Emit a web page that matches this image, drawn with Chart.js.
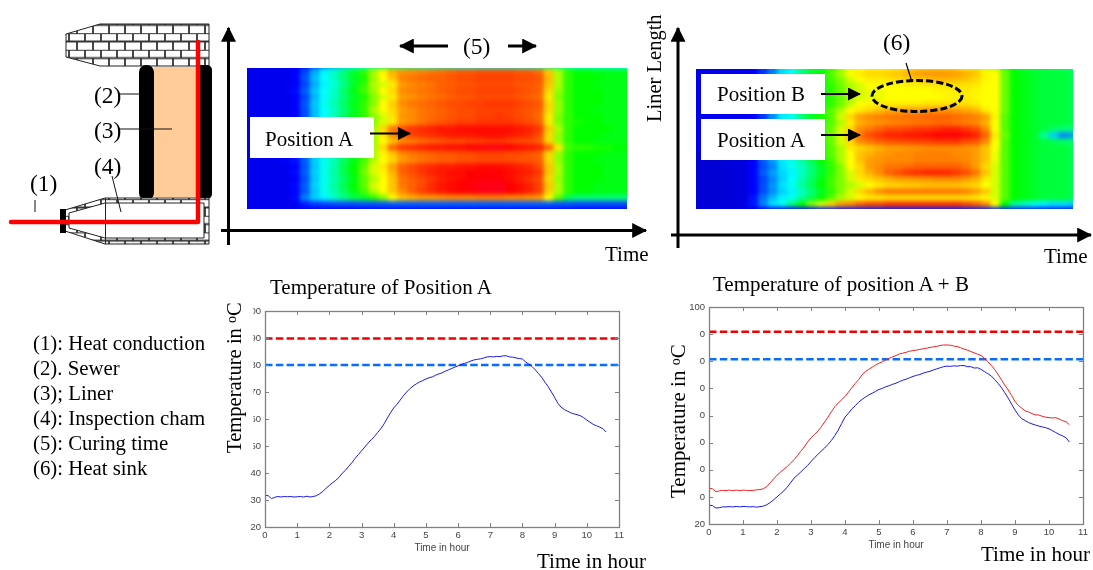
<!DOCTYPE html>
<html>
<head>
<meta charset="utf-8">
<script src="https://cdn.jsdelivr.net/npm/chart.js@4"></script>
<style>
  html, body { margin: 0; padding: 0; background: #fff; width: 1093px; height: 570px; overflow: hidden; }
  canvas { position: absolute; }
  .heat { position: absolute; overflow: hidden; }
  .heat canvas { filter: blur(2px); }
  #overlay { position: absolute; left: 0; top: 0; }
  #overlay text { font-family: "Liberation Serif", serif; fill: #000; }
</style>
</head>
<body>
<div class="heat" style="left:247px;top:68px;width:380px;height:141px"><canvas id="heatA" width="390" height="151" style="left:-5px;top:-5px"></canvas></div>
<div class="heat" style="left:696px;top:69px;width:377px;height:140px"><canvas id="heatB" width="387" height="150" style="left:-5px;top:-5px"></canvas></div>
<canvas id="chartA" width="410" height="255" style="left:220px;top:300px"></canvas>
<canvas id="chartB" width="430" height="256" style="left:664px;top:296px"></canvas>

<svg id="overlay" width="1093" height="570" xmlns="http://www.w3.org/2000/svg">
  <defs>
    <pattern id="brick" width="16" height="16.6" patternUnits="userSpaceOnUse">
      <rect width="16" height="16.6" fill="#fff"/>
      <path d="M0 0H16M0 8.3H16M5 0V8.3M13 8.3V16.6" stroke="#333" stroke-width="1.8" fill="none"/>
    </pattern>
    <marker id="head" markerWidth="5" markerHeight="5" refX="4.6" refY="2.5" orient="auto">
      <path d="M0 0L5 2.5L0 5z" fill="#000"/>
    </marker>
    <marker id="head2" markerWidth="6.5" markerHeight="6.5" refX="6" refY="3.25" orient="auto">
      <path d="M0 0L6.5 3.25L0 6.5z" fill="#000"/>
    </marker>
  </defs>

  <!-- sewer schematic -->
  <path d="M66 34L100 24H209V66H100L66 57z" fill="url(#brick)" stroke="#222"/>
  <rect x="154" y="67" width="46" height="130" fill="#ffcc99"/>
  <rect x="139" y="65" width="15" height="135" rx="7" fill="#000"/>
  <rect x="197" y="65" width="15" height="134" rx="5" fill="#000"/>
  <path d="M65 210L105 198H209V244H105L65 231z" fill="url(#brick)" stroke="#222"/>
  <path d="M69 213L105 203H204V238H105L69 228z" fill="#fff" stroke="#222"/>
  <path d="M105.5 198V244" stroke="#222"/>
  <rect x="60" y="209" width="6" height="24" fill="#000"/>
  <path d="M11 222H198V42" fill="none" stroke="#f00" stroke-width="4.5" stroke-linecap="round" stroke-linejoin="round"/>
  <path d="M118 94H139M118 129H172M112 176L121 212M35 200V212" stroke="#111" fill="none"/>
  <text x="30" y="191" font-size="23.5">(1)</text>
  <text x="94" y="103" font-size="23.5">(2)</text>
  <text x="94" y="138" font-size="23.5">(3)</text>
  <text x="94" y="174" font-size="23.5">(4)</text>

  <!-- legend list -->
  <text x="33" y="350" font-size="20.8">(1): Heat conduction</text>
  <text x="33" y="375" font-size="20.8">(2). Sewer</text>
  <text x="33" y="400" font-size="20.8">(3); Liner</text>
  <text x="33" y="425" font-size="20.8">(4): Inspection cham</text>
  <text x="33" y="450" font-size="20.8">(5): Curing time</text>
  <text x="33" y="475" font-size="20.8">(6): Heat sink</text>

  <!-- top left panel -->
  <path d="M228.5 245V28" stroke="#000" stroke-width="3" marker-end="url(#head)"/>
  <path d="M221 230.5H646" stroke="#000" stroke-width="3" marker-end="url(#head)"/>
  <path d="M448 46H400" stroke="#000" stroke-width="3" marker-end="url(#head)"/>
  <path d="M508 46H536" stroke="#000" stroke-width="3" marker-end="url(#head)"/>
  <text x="463" y="54" font-size="23.5">(5)</text>
  <rect x="250" y="117" width="124" height="41" fill="#fff"/>
  <text x="265" y="146" font-size="21">Position A</text>
  <path d="M370 133.5H410" stroke="#000" stroke-width="2" marker-end="url(#head2)" />
  <text x="605" y="261" font-size="21">Time</text>

  <!-- top right panel -->
  <path d="M678 248V28" stroke="#000" stroke-width="3" marker-end="url(#head)"/>
  <path d="M671 235H1091" stroke="#000" stroke-width="3" marker-end="url(#head)"/>
  <rect x="701" y="74" width="124" height="40" fill="#fff"/>
  <rect x="701" y="119" width="124" height="41" fill="#fff"/>
  <text x="717" y="101" font-size="21">Position B</text>
  <text x="717" y="147" font-size="21">Position A</text>
  <path d="M821 94H860" stroke="#000" stroke-width="2" marker-end="url(#head2)"/>
  <path d="M821 135H860" stroke="#000" stroke-width="2" marker-end="url(#head2)"/>
  <ellipse cx="917" cy="96" rx="45" ry="15.5" fill="none" stroke="#000" stroke-width="3" stroke-dasharray="7 3"/>
  <path d="M906 63L912 82" stroke="#000" stroke-width="1.2"/>
  <text x="883" y="50" font-size="23.5">(6)</text>
  <text x="1044" y="263" font-size="21">Time</text>
  <text transform="translate(661 122) rotate(-90)" font-size="20.5">Liner Length</text>

  <!-- bottom panels: white text boxes that cover the tick labels -->
  <rect x="225" y="304" width="28.3" height="152" fill="#fff"/>
  <rect x="668" y="312" width="31.7" height="192" fill="#fff"/>
  <text x="270" y="294" font-size="21">Temperature of Position A</text>
  <text x="713" y="291" font-size="21">Temperature of position A + B</text>
  <text transform="translate(241 453) rotate(-90)" font-size="20.6">Temperature in <tspan dy="-5" font-size="14">o</tspan><tspan dy="5">C</tspan></text>
  <text transform="translate(685 498) rotate(-90)" font-size="21">Temperature in <tspan dy="-5" font-size="14">o</tspan><tspan dy="5">C</tspan></text>
  <text x="537" y="568" font-size="21">Time in hour</text>
  <text x="981" y="561" font-size="21">Time in hour</text>
</svg>

<script>
// Sampling times of the logger, hours
const timeHours = [
  0.0,0.1,0.2,0.3,0.4,0.5,0.6,0.7,0.8,0.9,
  1.0,1.1,1.2,1.3,1.4,1.5,1.6,1.7,1.8,1.9,
  2.0,2.1,2.2,2.3,2.4,2.5,2.6,2.7,2.8,2.9,
  3.0,3.1,3.2,3.3,3.4,3.5,3.6,3.7,3.8,3.9,
  4.0,4.1,4.2,4.3,4.4,4.5,4.6,4.7,4.8,4.9,
  5.0,5.1,5.2,5.3,5.4,5.5,5.6,5.7,5.8,5.9,
  6.0,6.1,6.2,6.3,6.4,6.5,6.6,6.7,6.8,6.9,
  7.0,7.1,7.2,7.3,7.4,7.5,7.6,7.7,7.8,7.9,
  8.0,8.1,8.2,8.3,8.4,8.5,8.6,8.7,8.8,8.9,
  9.0,9.1,9.2,9.3,9.4,9.5,9.6,9.7,9.8,9.9,
  10.0,10.1,10.2,10.3,10.4,10.5,10.6
];

// Left plot: temperature of position A
const tempA = [
  31.7,31.6,30.5,31.0,31.3,31.1,31.3,31.2,31.3,31.1,
  31.2,31.3,31.1,31.4,31.1,31.3,31.6,32.3,33.2,34.4,
  35.4,36.4,37.3,38.4,39.9,41.0,42.5,43.8,45.4,46.8,
  48.2,49.6,51.0,52.3,53.5,55.0,56.4,58.2,60.3,62.3,
  64.1,65.4,67.0,68.6,70.0,71.2,72.2,73.0,73.7,74.2,
  74.8,75.3,75.6,76.2,76.7,77.1,77.7,78.2,78.7,79.2,
  79.7,80.2,80.6,81.0,81.5,81.9,82.1,82.3,82.6,83.0,
  83.1,83.0,83.2,83.1,83.4,83.4,83.0,82.9,82.6,82.4,
  82.2,81.1,80.3,79.4,78.2,76.8,75.4,73.6,72.0,70.0,
  68.0,65.8,64.4,63.5,62.9,62.3,61.9,61.6,61.2,60.5,
  59.6,58.8,58.0,57.5,57.0,56.4,55.2
];

// Right plot: position A (red) and position B (blue)
const tempRed = [
  33.2,33.0,31.9,32.2,32.4,32.3,32.5,32.3,32.5,32.3,
  32.5,32.4,32.3,32.4,32.6,32.7,33.0,33.8,35.2,36.6,
  38.0,39.1,40.2,41.2,42.4,43.7,45.2,46.8,48.4,50.2,
  51.8,53.0,54.2,55.8,57.6,59.4,61.4,63.2,64.6,65.8,
  67.0,68.6,70.2,71.8,73.2,75.0,76.2,77.0,77.8,78.6,
  79.3,79.8,80.5,81.1,81.6,82.1,82.7,83.0,83.3,83.7,
  83.9,84.1,84.4,84.6,84.8,85.1,85.3,85.5,85.8,86.0,
  86.0,85.9,85.6,85.4,85.0,84.5,84.1,83.6,83.1,82.6,
  82.1,81.2,79.8,78.5,77.0,75.2,73.2,71.2,69.4,67.4,
  65.2,63.7,62.7,61.7,61.3,60.7,60.2,60.2,59.7,59.4,
  59.2,59.1,59.2,58.7,58.1,57.7,56.6
];
const tempBlue = [
  26.9,26.8,25.9,26.0,26.3,26.3,26.4,26.3,26.5,26.3,
  26.5,26.4,26.3,26.4,26.2,26.4,26.6,27.1,27.9,28.9,
  30.0,31.1,32.2,33.6,35.2,36.9,38.0,39.2,40.4,41.6,
  43.0,44.4,45.6,46.9,48.0,49.3,50.8,52.6,54.6,57.0,
  59.4,60.8,62.4,63.6,64.9,65.9,66.8,67.6,68.2,68.9,
  69.6,70.0,70.6,71.0,71.5,71.9,72.5,73.0,73.4,73.9,
  74.4,74.8,75.1,75.6,76.0,76.3,76.8,77.2,77.6,78.0,
  78.2,78.1,78.3,78.2,78.4,78.4,78.0,78.0,77.5,77.6,
  77.0,76.2,75.4,74.6,73.3,71.9,70.3,68.4,66.4,64.2,
  62.0,60.2,58.8,58.1,57.4,56.9,56.5,56.1,55.8,55.5,
  55.1,54.4,53.7,53.0,52.5,51.8,50.2
];

// Dashed limit lines [upper red, lower blue]
const limitsA = [89.8, 80.0];
const limitsB = [90.9, 80.7];
const limitSpan = [0, 11];

// Tick labels of the two small plots
const yTicks = [20, 30, 40, 50, 60, 70, 80, 90, 100];
const xTicks = [0, 1, 2, 3, 4, 5, 6, 7, 8, 9, 10, 11];

// Thermal image left, temperature index 0..100, rows from top to bottom
const heatRowsA = [
  [8,8,8,8,8,9,12,18,24,28,32,36,38,42,44,44,42,42,40,40,40,40,38,38,38,38,38,38,38,38,40,42,42,40,38,38,38,38,36,36],
  [8,8,8,8,8,9,17,28,36,40,44,48,52,58,63,70,73,74,75,76,77,78,79,79,80,80,80,80,79,79,77,68,58,52,50,50,49,49,49,49],
  [8,8,8,8,8,10,19,30,37,40,44,48,51,57,62,68,75,76,77,78,78,79,80,80,81,81,81,81,80,80,79,69,58,52,50,50,50,49,49,49],
  [8,8,8,8,8,9,17,28,36,39,43,48,52,58,60,64,72,74,75,76,78,78,79,79,80,80,80,80,79,79,78,68,58,52,50,50,49,49,49,49],
  [8,8,8,8,8,11,20,31,37,40,45,49,53,57,62,66,74,75,76,77,78,79,80,80,81,81,81,81,80,79,78,66,57,52,50,50,50,49,49,49],
  [8,8,8,8,8,9,17,29,37,40,44,48,51,56,60,64,72,73,75,76,77,78,79,79,80,80,80,80,79,78,77,64,56,52,50,50,50,49,49,49],
  [8,8,8,8,8,10,19,31,38,41,45,49,52,56,62,67,74,76,77,78,79,80,80,81,81,82,82,82,81,80,79,66,57,52,50,50,50,49,49,49],
  [8,8,8,8,8,9,18,30,37,40,44,48,52,58,62,66,72,74,76,77,78,79,80,80,81,81,81,81,80,79,78,66,57,52,50,50,49,49,49,49],
  [8,8,8,8,8,9,18,30,37,41,45,49,52,56,60,65,73,74,76,77,78,79,80,80,81,81,82,81,80,79,77,64,56,52,50,50,50,49,49,49],
  [8,8,8,8,8,10,19,31,38,41,45,49,52,56,60,64,72,74,76,78,79,80,81,81,82,82,82,82,81,80,78,64,56,52,51,50,50,49,49,49],
  [8,8,8,8,8,9,18,30,37,40,44,48,52,58,66,76,80,82,83,84,85,85,86,86,86,86,86,86,85,84,82,68,58,52,50,50,50,50,49,49],
  [8,8,8,8,8,9,18,31,38,41,45,49,53,58,64,74,80,81,82,83,84,85,85,85,86,86,86,85,84,83,80,66,57,52,50,50,50,49,49,49],
  [8,8,8,8,8,10,19,30,37,41,45,49,52,57,62,68,74,75,77,78,79,80,80,81,81,82,82,81,80,80,78,66,57,52,50,50,49,49,49,49],
  [8,8,8,8,8,9,18,30,37,40,44,48,52,58,66,78,82,83,84,85,85,86,86,87,88,89,89,87,86,85,84,78,64,53,52,52,51,51,50,50],
  [8,8,8,8,8,10,19,31,38,41,45,49,53,58,63,68,74,76,77,78,79,79,80,80,81,81,81,80,80,79,78,66,57,52,50,50,50,49,49,49],
  [8,8,8,8,9,12,20,32,38,41,45,49,53,58,62,66,72,74,76,77,78,78,79,79,80,80,80,80,79,79,78,66,57,52,50,50,49,49,49,49],
  [8,8,8,8,8,10,19,31,38,41,46,50,54,60,64,72,78,80,82,83,84,84,85,85,86,86,86,85,84,83,80,68,58,52,50,50,50,49,49,49],
  [8,8,8,8,8,11,20,32,38,42,46,50,55,60,63,70,78,80,82,84,85,86,86,87,87,88,87,86,85,84,82,68,58,52,50,50,50,49,49,49],
  [8,8,8,8,8,9,18,31,38,41,45,49,54,58,62,68,76,78,80,82,84,85,86,87,88,88,88,86,84,82,80,66,57,52,50,50,50,49,49,49],
  [8,8,8,8,8,11,20,32,38,42,46,50,54,60,62,68,76,78,80,83,85,86,87,88,90,90,90,87,86,84,81,68,58,52,50,50,49,49,49,49],
  [8,8,8,8,8,10,19,31,38,41,45,49,53,58,62,68,74,78,81,83,85,86,87,88,89,90,90,87,86,84,81,67,58,52,50,50,49,49,49,49],
  [8,8,8,8,8,11,24,32,36,40,43,46,48,52,56,62,68,70,72,72,73,74,74,74,75,75,75,74,74,73,72,62,54,46,44,44,44,44,44,44],
  [8,8,8,8,8,8,13,16,17,18,18,18,19,19,19,20,20,20,20,20,20,20,20,20,20,20,20,20,20,20,20,20,19,19,18,18,18,18,18,18],
  [8,8,8,8,8,8,9,9,10,10,10,10,10,10,11,11,11,11,11,11,11,11,11,11,11,11,11,11,11,11,11,11,11,11,11,11,11,11,11,11]
];

// Thermal image right, same scale
const heatRowsB = [
  [8,8,8,8,8,8,9,15,22,32,36,42,46,48,52,56,60,62,62,62,62,63,64,64,64,64,64,64,62,60,60,58,52,48,46,46,46,45,45,44],
  [8,8,8,8,8,8,10,16,24,34,38,44,48,50,54,58,62,64,66,66,67,68,70,72,73,73,73,72,70,68,63,62,55,50,49,48,47,47,47,46],
  [8,8,8,8,8,8,10,16,24,34,38,44,48,50,53,56,60,62,64,64,65,66,67,68,69,70,70,69,68,66,63,62,55,50,49,48,47,47,47,46],
  [8,8,8,8,8,8,10,16,24,34,38,44,48,50,52,55,58,60,62,62,62,62,63,63,64,64,65,65,65,64,62,62,55,50,49,48,47,47,47,46],
  [8,8,8,8,8,8,10,16,24,34,38,44,48,50,52,55,58,60,61,61,62,62,62,62,62,63,63,64,64,63,62,62,55,50,49,48,47,47,47,46],
  [8,8,8,8,8,8,10,16,24,34,38,44,48,50,52,55,58,60,61,61,62,62,62,62,62,62,63,63,64,63,62,62,55,50,49,48,47,47,47,46],
  [8,8,8,8,8,8,10,16,24,34,38,44,48,50,52,55,59,62,63,64,64,64,64,64,65,65,65,65,65,64,62,62,55,50,49,48,47,47,47,46],
  [8,8,8,8,8,8,10,16,25,35,38,44,48,51,54,58,62,64,66,68,70,71,72,72,73,73,73,72,71,69,64,62,55,50,49,48,47,47,47,46],
  [8,8,8,8,8,8,10,16,25,35,38,44,48,51,54,60,66,72,74,75,76,76,77,77,78,78,78,77,76,75,72,63,54,50,49,48,47,47,47,46],
  [8,8,8,8,8,8,10,16,25,34,38,44,48,51,54,58,64,70,72,73,74,75,75,76,76,77,77,76,75,74,70,62,54,50,49,48,47,47,47,46],
  [8,8,8,8,8,8,10,16,25,34,38,44,48,51,55,60,66,74,76,78,80,80,81,82,82,83,84,84,82,80,74,62,54,50,49,48,47,45,44,44],
  [8,8,8,8,8,8,10,16,25,34,38,44,48,51,55,60,68,76,80,82,84,84,85,85,86,87,88,88,86,84,78,64,55,50,49,48,42,32,24,26],
  [8,8,8,8,8,8,10,16,25,34,38,44,48,51,55,60,66,74,76,78,79,80,80,81,81,82,82,82,80,79,74,62,54,50,49,48,47,46,45,45],
  [8,8,8,8,8,8,10,16,25,34,38,44,48,51,54,58,64,66,68,70,72,72,73,73,74,74,74,74,73,72,68,62,54,50,49,48,47,47,47,46],
  [6,6,6,6,6,6,10,17,26,34,38,44,48,51,54,58,62,68,70,72,73,74,74,75,75,75,75,74,74,72,68,61,54,50,49,48,47,47,47,46],
  [5,5,5,5,6,6,10,20,27,35,38,42,46,50,53,58,62,68,72,73,74,74,74,75,75,75,75,75,74,72,68,61,54,50,49,48,47,47,47,46],
  [5,5,5,5,6,6,10,18,24,34,38,40,44,48,52,56,62,66,72,74,76,76,77,78,78,78,78,78,76,72,66,60,54,50,49,48,47,47,47,46],
  [5,5,5,5,6,6,10,20,27,33,36,40,44,48,52,56,60,66,70,74,78,80,82,83,84,84,84,82,80,76,68,60,54,50,49,48,47,47,47,46],
  [5,5,5,5,6,6,10,17,24,32,37,41,45,49,53,56,60,64,66,68,70,72,72,73,73,74,74,74,72,70,64,60,54,50,49,48,47,47,47,46],
  [5,5,5,5,6,6,10,18,26,34,38,42,46,50,53,56,58,60,62,64,66,66,67,67,68,68,68,68,67,66,62,60,54,50,49,48,47,47,47,46],
  [5,5,5,5,6,6,10,18,25,32,36,40,44,48,52,56,60,66,70,74,76,76,76,76,76,76,76,76,75,72,68,60,54,50,49,48,47,47,47,46],
  [5,5,5,5,6,6,12,22,30,36,38,42,46,50,54,58,60,62,64,64,65,65,65,65,65,65,65,65,65,64,62,60,54,50,49,48,47,47,47,46],
  [6,6,6,6,6,7,12,24,34,38,44,50,56,60,66,72,74,78,80,80,82,82,82,82,82,82,82,82,80,78,74,62,50,42,40,38,36,34,34,32],
  [6,6,6,6,6,6,7,8,9,10,10,11,11,12,12,12,12,13,13,13,13,13,13,13,13,13,13,13,13,13,13,13,13,13,13,13,12,12,12,12]
];

const heatStops = [
  [0, 0, 0, 170], [10, 0, 0, 255], [37, 0, 255, 255], [50, 0, 255, 0],
  [62, 255, 255, 0], [75, 255, 128, 0], [87, 255, 0, 0], [100, 255, 0, 110]
];

// Map a temperature index to the colour of the thermal camera
function heatColour(v) {
  for (let i = 1; i < heatStops.length; i++) {
    if (v <= heatStops[i][0]) {
      let a = heatStops[i - 1];
      let b = heatStops[i];
      let t = (v - a[0]) / (b[0] - a[0]);
      return "rgb(" + [1, 2, 3].map(function (k) {
        return Math.round(a[k] + (b[k] - a[k]) * t);
      }).join(",") + ")";
    }
  }
  return "rgb(255,0,110)";
}

// The thermal images are stacked bars: one dataset per row, one bar per column
function drawHeat(id, rows) {
  let bottomUp = rows.slice().reverse();
  new Chart(document.getElementById(id), {
    type: "bar",
    data: {
      labels: rows[0].map(function (_, i) { return i; }),
      datasets: bottomUp.map(function (row) {
        return {
          data: row.map(function () { return 1; }),
          backgroundColor: row.map(heatColour),
          barPercentage: 1,
          categoryPercentage: 1,
          inflateAmount: 0.6
        };
      })
    },
    options: {
      responsive: false,
      animation: false,
      events: [],
      layout: { padding: 0 },
      plugins: { legend: { display: false }, tooltip: { enabled: false } },
      scales: {
        x: { display: false, stacked: true },
        y: { display: false, stacked: true, min: 0, max: rows.length }
      }
    }
  });
}

// Matlab style frame with the ticks pointing inwards
const insideTicks = {
  id: "insideTicks",
  afterDatasetsDraw(chart) {
    let ctx = chart.ctx;
    let area = chart.chartArea;
    ctx.save();
    ctx.strokeStyle = "#808080";
    ctx.lineWidth = 1.3;
    ctx.strokeRect(Math.round(area.left) + 0.5, Math.round(area.top) + 0.5, Math.round(area.width), Math.round(area.height));
    ctx.lineWidth = 1;
    ctx.beginPath();
    xTicks.forEach(function (t) {
      let x = Math.round(chart.scales.x.getPixelForValue(t)) + 0.5;
      ctx.moveTo(x, area.top); ctx.lineTo(x, area.top + 4);
      ctx.moveTo(x, area.bottom); ctx.lineTo(x, area.bottom - 4);
    });
    yTicks.forEach(function (t) {
      let y = Math.round(chart.scales.y.getPixelForValue(t)) + 0.5;
      ctx.moveTo(area.left, y); ctx.lineTo(area.left + 4, y);
      ctx.moveTo(area.right, y); ctx.lineTo(area.right - 4, y);
    });
    ctx.stroke();
    ctx.restore();
  }
};

function xyPoints(values) {
  return values.map(function (v, i) { return { x: timeHours[i], y: v }; });
}

function limitLine(value, colour) {
  return {
    data: limitSpan.map(function (x) { return { x: x, y: value }; }),
    borderColor: colour,
    borderWidth: 2.5,
    borderDash: [7.5, 3.3],
    pointRadius: 0
  };
}

function curve(values, colour) {
  return { data: xyPoints(values), borderColor: colour, borderWidth: 1, pointRadius: 0, tension: 0 };
}

function drawPlot(id, datasets) {
  new Chart(document.getElementById(id), {
    type: "line",
    data: { datasets: datasets },
    options: {
      responsive: false,
      animation: false,
      events: [],
      layout: { padding: { top: 11, right: 11 } },
      plugins: { legend: { display: false }, tooltip: { enabled: false } },
      scales: {
        x: {
          type: "linear", min: 0, max: 11,
          afterBuildTicks(s) { s.ticks = xTicks.map(function (v) { return { value: v }; }); },
          afterFit(s) { s.height = 28; },
          grid: { display: false, drawTicks: false },
          border: { display: false },
          ticks: { color: "#444", font: { family: "Liberation Sans", size: 9.5 }, padding: 3, maxRotation: 0 },
          title: { display: true, text: "Time in hour", color: "#444", font: { family: "Liberation Sans", size: 10 }, padding: { top: 0, bottom: 1 } }
        },
        y: {
          min: 20, max: 100,
          afterBuildTicks(s) { s.ticks = yTicks.map(function (v) { return { value: v }; }); },
          afterFit(s) { s.width = 45; },
          grid: { display: false, drawTicks: false },
          border: { display: false },
          ticks: { color: "#444", font: { family: "Liberation Sans", size: 9.5 }, padding: 4 }
        }
      }
    },
    plugins: [insideTicks]
  });
}

drawHeat("heatA", heatRowsA);
drawHeat("heatB", heatRowsB);

drawPlot("chartA", [
  curve(tempA, "#1818e8"),
  limitLine(limitsA[0], "#f00000"),
  limitLine(limitsA[1], "#0a6cff")
]);
drawPlot("chartB", [
  curve(tempRed, "#f02020"),
  curve(tempBlue, "#1818e8"),
  limitLine(limitsB[0], "#f00000"),
  limitLine(limitsB[1], "#0a6cff")
]);
</script>
</body>
</html>
